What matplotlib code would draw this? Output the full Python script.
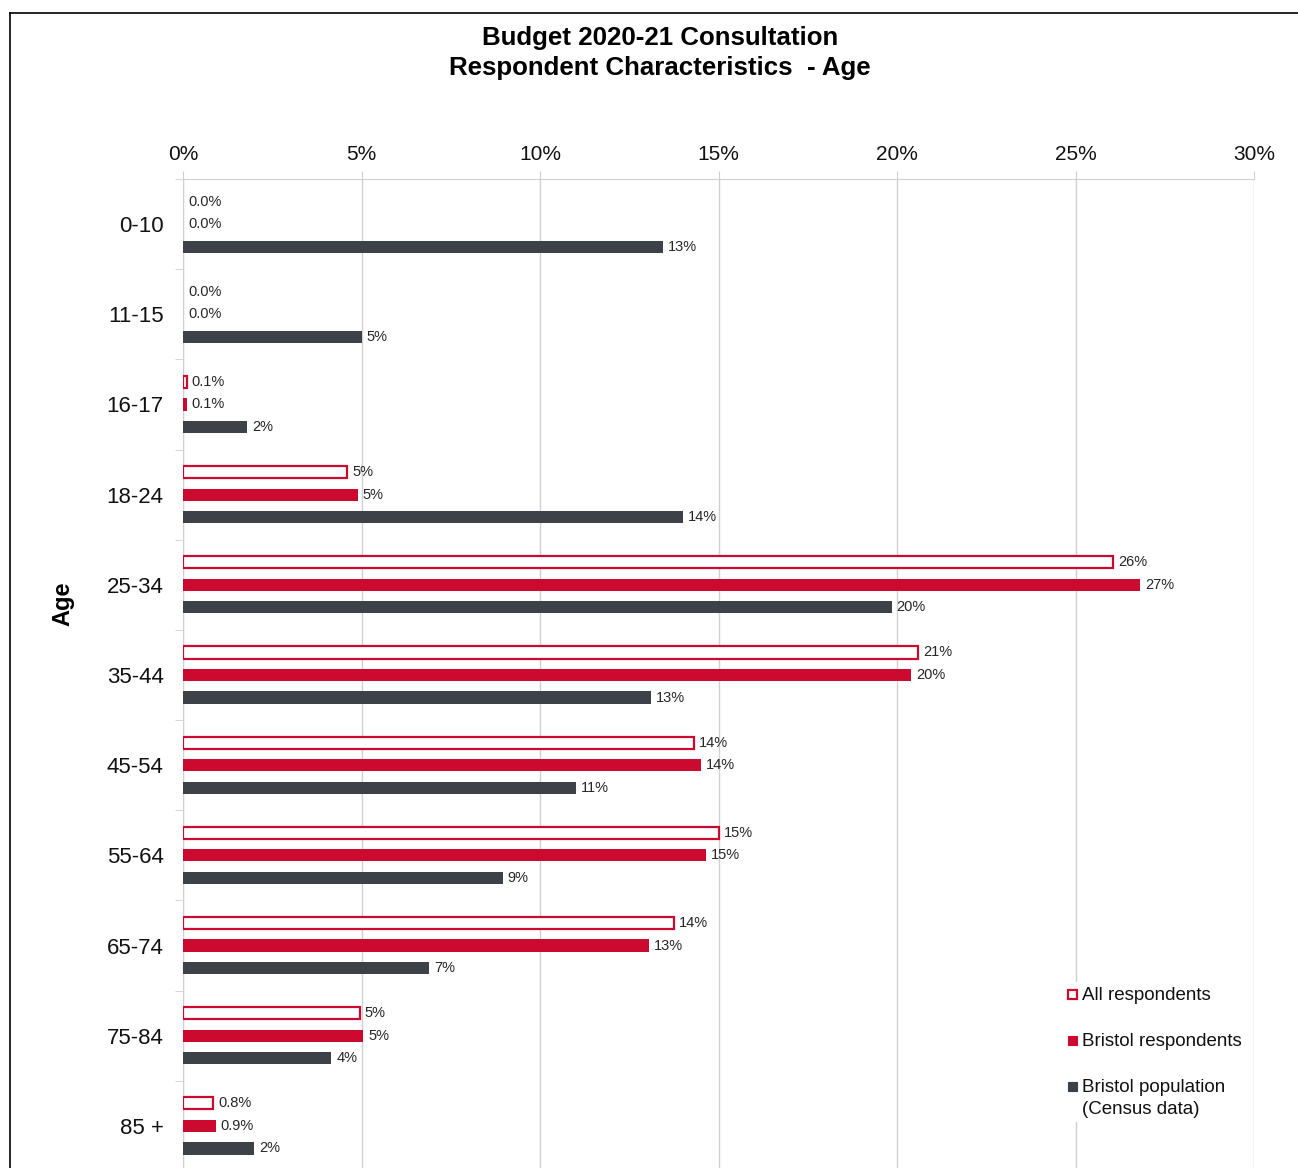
import matplotlib
matplotlib.use("Agg")
import matplotlib.pyplot as plt
import numpy as np
from matplotlib.patches import Rectangle
from matplotlib.lines import Line2D

plt.rcParams['font.family'] = ['Liberation Sans', 'DejaVu Sans']

age_groups = ["0-10", "11-15", "16-17", "18-24", "25-34", "35-44",
              "45-54", "55-64", "65-74", "75-84", "85 +"]
all_respondents = [0.0, 0.0, 0.1, 4.6, 26.05, 20.6, 14.3, 15.0, 13.75, 4.95, 0.84]
bristol_respondents = [0.0, 0.0, 0.1, 4.9, 26.8, 20.4, 14.5, 14.65, 13.05, 5.05, 0.92]
bristol_population = [13.45, 5.0, 1.8, 14.0, 19.85, 13.1, 11.0, 8.95, 6.9, 4.15, 2.0]
series_names = ["All respondents", "Bristol respondents",
                "Bristol population", "(Census data)"]
x_ticks = [0, 5, 10, 15, 20, 25, 30]

RED = "#CC0A30"
DARK = "#3D4148"
GRID = "#D0D0D0"
W, H = 1298, 1168

fig = plt.figure(figsize=(W / 100, H / 100), dpi=100)
ax = fig.add_axes([183 / W, -3 / H, (1254 - 183) / W, (1172 - 180) / H])

y = np.arange(len(age_groups))
off = 0.25
h = 0.135


def fmt(v):
    return f"{v:.1f}%" if v < 1 else f"{v:.0f}%"


outline = ax.barh(y - off, all_respondents, height=h, facecolor="white",
                  edgecolor=RED, linewidth=1.6, zorder=3)
for patch, v in zip(outline, all_respondents):
    if v == 0:
        patch.set_linewidth(0)
ax.barh(y, bristol_respondents, height=h, color=RED, zorder=3)
ax.barh(y + off, bristol_population, height=h, color=DARK, zorder=3)

for vals, dy in ((all_respondents, -off), (bristol_respondents, 0), (bristol_population, off)):
    for yi, v in zip(y, vals):
        ax.annotate(fmt(v), (v, yi + dy), xytext=(3.6, 0), textcoords="offset points",
                    ha="left", va="center", fontsize=10.5, color="#262626")

ax.set_xlim(0, 30)
ax.set_ylim(len(age_groups) - 0.5, -0.5)
ax.set_xticks(x_ticks)
ax.set_xticklabels([f"{t}%" for t in x_ticks], fontsize=15)
ax.xaxis.tick_top()
ax.tick_params(axis="x", top=True, length=6, color=GRID, pad=5, labelcolor="#111111")
ax.grid(axis="x", color=GRID, linewidth=1, zorder=0)

ax.set_yticks(y)
ax.set_yticklabels(age_groups, fontsize=16)
ax.set_yticks(np.arange(len(age_groups) + 1) - 0.5, minor=True)
ax.tick_params(axis="y", which="major", length=0, pad=14, labelcolor="#111111")
ax.tick_params(axis="y", which="minor", length=6, color=GRID)

for s in ("right", "bottom"):
    ax.spines[s].set_visible(False)
for s in ("left", "top"):
    ax.spines[s].set_color(GRID)

fig.text(63 / W, 1 - 604 / H, "Age", rotation=90, ha="center", va="center",
         fontsize=17, fontweight="bold")
fig.text(660 / W, 1 - 38 / H, "Budget 2020-21 Consultation", ha="center",
         va="center", fontsize=18.6, fontweight="bold")
fig.text(660 / W, 1 - 68 / H, "Respondent Characteristics  - Age", ha="center",
         va="center", fontsize=18.6, fontweight="bold")

# Legend drawn by hand: white panel, square keys and labels
fig.add_artist(Rectangle((1062 / W, 1 - 1122 / H), (1250 - 1062) / W, 140 / H,
                         transform=fig.transFigure, facecolor="white",
                         edgecolor="none", zorder=4))
key_styles = [dict(facecolor="white", edgecolor=RED, linewidth=1.6),
              dict(facecolor=RED, edgecolor=RED, linewidth=0.8),
              dict(facecolor=DARK, edgecolor=DARK, linewidth=0.8)]
key_rows = [994, 1040, 1086]
sq = 9
for style, row in zip(key_styles, key_rows):
    fig.add_artist(Rectangle(((1072 - sq / 2) / W, 1 - (row + sq / 2) / H), sq / W, sq / H,
                             transform=fig.transFigure, zorder=5, **style))
for name, row in zip(series_names, key_rows + [1108]):
    fig.text(1082 / W, 1 - (row + 2) / H, name, ha="left", va="center",
             fontsize=13.5, color="#111111", zorder=6)

fig.add_artist(Line2D([10 / W, 1], [1 - 13 / H] * 2, color="black", linewidth=1.2))
fig.add_artist(Line2D([10 / W] * 2, [0, 1 - 13 / H], color="black", linewidth=1.2))

fig.savefig("out.png", dpi=100, facecolor="white")
